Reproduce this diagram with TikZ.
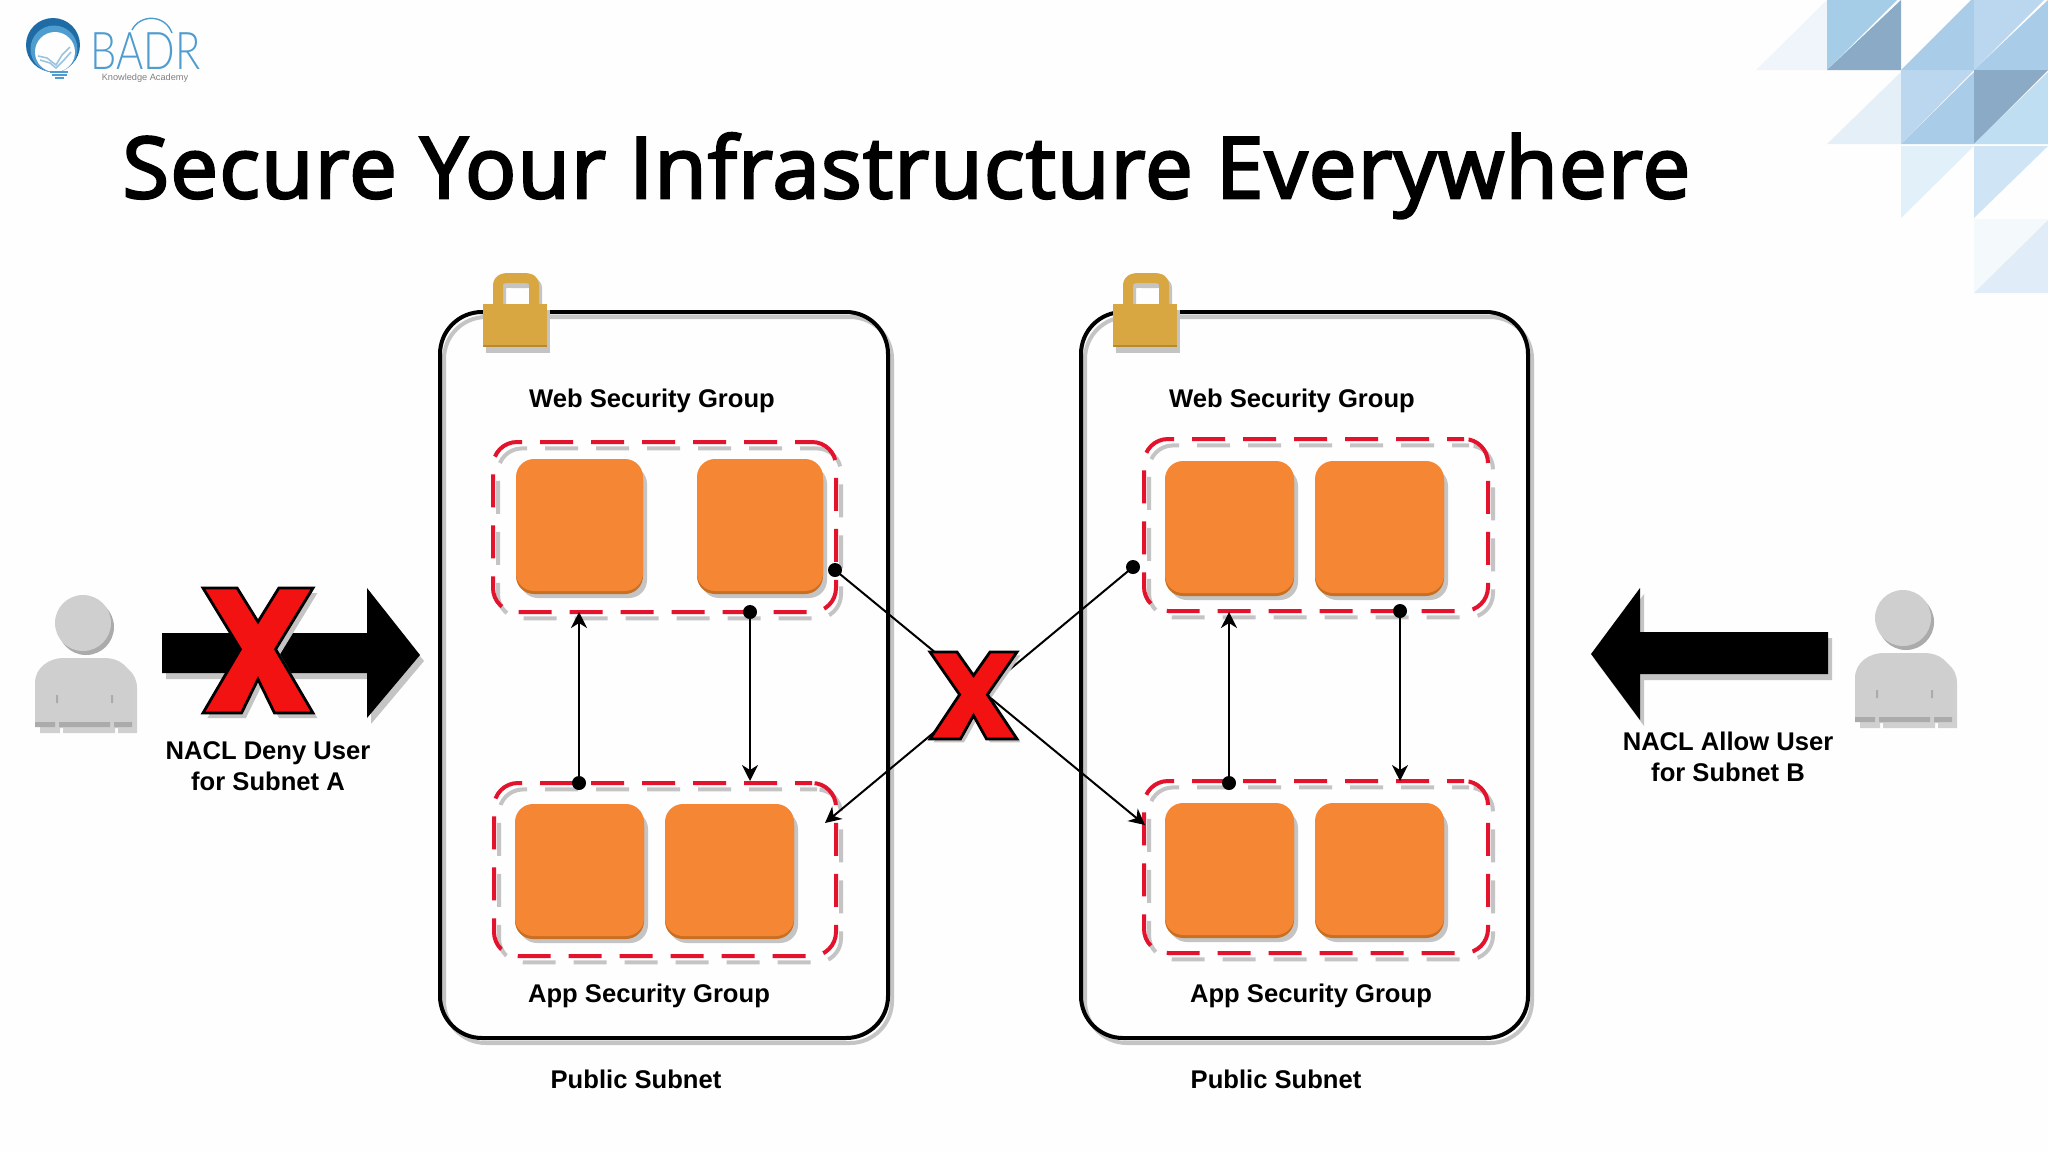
\documentclass[tikz,border=0pt]{standalone}
\usepackage{fontspec}
\setmainfont{Liberation Sans}
\newfontfamily\titlefont[FakeBold=3,LetterSpace=1.6]{Open Sans}
\newfontfamily\logofont{Lato Light}
\usetikzlibrary{arrows.meta}
\definecolor{bgc}{HTML}{FEFEFE}
\definecolor{shad}{HTML}{C4C4C4}
\definecolor{orangef}{HTML}{F58634}
\definecolor{oranged}{HTML}{C96F22}
\definecolor{redd}{HTML}{E3122D}
\definecolor{xred}{HTML}{F21212}
\definecolor{lockc}{HTML}{D9A741}
\definecolor{lockd}{HTML}{B88A2E}
\definecolor{persc}{HTML}{CFCFD0}
\definecolor{persd}{HTML}{ABABAB}
\definecolor{tA}{HTML}{F0F5FB}\definecolor{tB}{HTML}{A6CDE8}\definecolor{tC}{HTML}{8AAAC6}
\definecolor{tD}{HTML}{BAD7EF}\definecolor{tE}{HTML}{A9CDE9}\definecolor{tF}{HTML}{E4EFF8}
\definecolor{tG}{HTML}{C0DEF2}\definecolor{tH}{HTML}{E2F0FA}\definecolor{tI}{HTML}{CFE5F6}
\definecolor{tJ}{HTML}{F4F9FC}\definecolor{tK}{HTML}{E0EDF9}
\definecolor{logoa}{HTML}{1F6BA5}\definecolor{logob}{HTML}{4F9CCF}\definecolor{logoc}{HTML}{9CC4DE}
\tikzset{
  x=0.5pt,y=-0.5pt,
  sdw/.style={preaction={draw=shad,transform canvas={xshift=2pt,yshift=-2.5pt}}},
  sdwd/.style={preaction={draw=shad,transform canvas={xshift=2.5pt,yshift=-3.2pt}}},
  subnet/.style={draw=black,line width=2pt,rounded corners=21pt,anchor=north west,inner sep=0,outer sep=0,fill=none,sdw},
  secgroup/.style={draw=redd,line width=2pt,rounded corners=12pt,dash pattern=on 16.5pt off 9pt,dash phase=8pt,anchor=north west,inner sep=0,outer sep=0,sdwd},
  inst/.style={fill=orangef,rounded corners=9pt,anchor=north west,inner sep=0,outer sep=0,minimum width=64.5pt,minimum height=66pt,
    preaction={fill=shad,transform canvas={xshift=2pt,yshift=-3.5pt}},
    preaction={fill=oranged,transform canvas={yshift=-1.5pt}}},
  lbl/.style={font=\fontsize{12.8}{15.4}\selectfont\bfseries,text=black,inner sep=0,align=center},
  conn/.style={draw=black,line width=1pt},
  arrowed/.style={conn,-{Stealth[length=8pt,width=8pt,inset=2.5pt]}},
  dotn/.style={circle,fill=black,inner sep=0,minimum size=7pt,outer sep=0},
  bigarrow/.style={fill=black,preaction={fill=shad,transform canvas={xshift=2pt,yshift=-3pt}}},
  xmark/.pic={
    \fill[shad,shift={(4,4)}] (0,0)--(31,0)--(50,27)--(69,0)--(100,0)--(66,49)--(100,100)--(65,100)--(50,73)--(35,100)--(0,100)--(34,49)--cycle;
    \draw[draw=black,fill=xred,line width=1.4pt,miter limit=3] (0,0)--(31,0)--(50,27)--(69,0)--(100,0)--(66,49)--(100,100)--(65,100)--(50,73)--(35,100)--(0,100)--(34,49)--cycle;
  },
  person/.pic={
    \fill[shad!80!white,shift={(5,5)}] (-48,100)--(-48,60) .. controls (-48,44) and (-33,35) .. (-20,35)--(22,35) .. controls (36,35) and (49,44) .. (49,60)--(49,100)--cycle;
    \fill[shad!80!white] (-43,105) rectangle (-23,110) (-20,105) rectangle (32,110) (35,105) rectangle (54,110);
    \fill[persc] (-48,100)--(-48,60) .. controls (-48,44) and (-33,35) .. (-20,35)--(22,35) .. controls (36,35) and (49,44) .. (49,60)--(49,100)--cycle;
    \fill[persd] (-48,99) rectangle (-28,104) (-24,99) rectangle (27,104) (31,99) rectangle (49,104);
    \fill[persd] (-27,72) rectangle (-25,80) (28,72) rectangle (30,80);
    \fill[persd] (3,4) circle[radius=28];
    \fill[persc] (0,0) circle[radius=28];
  },
  padlock/.pic={
    \fill[shad] (3,40) rectangle (67,83);
    \draw[shad,line width=5pt,line join=round] (18,36)--(18,19) .. controls (18,12) and (23,13) .. (29,13)--(43,13) .. controls (50,13) and (54,12) .. (54,19)--(54,36);
    \draw[lockc,line width=5pt,line join=round] (15,36)--(15,16) .. controls (15,9) and (20,8) .. (26,8)--(40,8) .. controls (47,8) and (51,9) .. (51,16)--(51,36);
    \fill[lockd] (0,36) rectangle (64,77);
    \fill[lockc] (0,34) rectangle (64,75);
  }
}
\begin{document}
\begin{tikzpicture}
\useasboundingbox (0,0) rectangle (2048,1152);
\fill[bgc] (0,0) rectangle (2048,1152);
% decoration top right
\fill[tA] (1756,70)--(1827,70)--(1827,0)--cycle;
\fill[tB] (1827,70)--(1827,0)--(1897,0)--cycle;
\fill[tC] (1827,70)--(1901,0)--(1901,70)--cycle;
\fill[tE] (1901,70)--(1974,70)--(1974,0)--(1971,0)--cycle;
\fill[tD] (1974,70)--(1974,0)--(2044,0)--cycle;
\fill[tE] (1974,70)--(2048,0)--(2048,70)--cycle;
\fill[tF] (1827,144)--(1901,144)--(1901,72)--cycle;
\fill[tD] (1901,144)--(1901,70)--(1974,70)--cycle;
\fill[tE] (1901,144)--(1974,72)--(1974,144)--cycle;
\fill[tC] (1974,144)--(1974,70)--(2048,70)--cycle;
\fill[tG] (1974,144)--(2048,72)--(2048,144)--cycle;
\fill[tH] (1901,146)--(1974,146)--(1901,218)--cycle;
\fill[tI] (1974,146)--(2048,146)--(1974,218)--cycle;
\fill[tJ] (1974,219)--(2048,219)--(1974,293)--cycle;
\fill[tK] (1974,293)--(2048,293)--(2048,220)--cycle;
% logo
\fill[logoa] (53,45) circle[radius=27];
\fill[logob] (54,49) circle[radius=23.5];
\fill[bgc] (55,52) circle[radius=20];
\draw[logoc,line width=0.8pt] (38,56)--(47,58)--(56,65)--(62,55)--(70,47);
\draw[logoc,line width=0.8pt] (40,60)--(50,63)--(56,68)--(64,60)--(71,52);
\draw[logob,line width=1.1pt] (50,72)--(68,72) (52,75)--(67,75) (55,78)--(64,78);
\node[font=\fontsize{26}{26}\logofont,text=logob,inner sep=0,text depth=0pt,anchor=base west,xscale=0.8] (brand) at (90,69) {BADR};
\draw[logob,line width=0.7pt] (132,30) .. controls (140,14) and (165,14) .. (172,33);
\node[font=\fontsize{4.6}{5}\selectfont,text=gray,inner sep=0] (brandsub) at (145,78) {Knowledge Academy};
% title
\node[font=\fontsize{42.5}{48}\titlefont,text=black,inner sep=0,anchor=base west] (title) at (122,198) {Secure Your Infrastructure Everywhere};
% subnets
\node[subnet,minimum width=224pt,minimum height=363pt] (subA) at (440,312) {};
\node[subnet,minimum width=223.5pt,minimum height=363pt] (subB) at (1081,312) {};
% security groups
\node[secgroup,minimum width=171.5pt,minimum height=85pt] (webA) at (493,442) {};
\node[secgroup,minimum width=171pt,minimum height=86.5pt] (appA) at (494,783) {};
\node[secgroup,minimum width=172pt,minimum height=86pt] (webB) at (1144,439) {};
\node[secgroup,minimum width=172pt,minimum height=86pt] (appB) at (1144,781) {};
% instances
\node[inst,minimum width=63.5pt] (ia1) at (516,459) {};
\node[inst,minimum width=63pt] (ia2) at (697,459) {};
\node[inst] (ia3) at (515,804) {};
\node[inst] (ia4) at (665,804) {};
\node[inst] (ib1) at (1165,461) {};
\node[inst] (ib2) at (1315,461) {};
\node[inst] (ib3) at (1165,803) {};
\node[inst] (ib4) at (1315,803) {};
% locks
\pic at (483,270) {padlock};
\pic at (1113,270) {padlock};
% labels
\node[lbl] (l1) at (652,401) {Web Security Group};
\node[lbl] (l2) at (1292,401) {Web Security Group};
\node[lbl] (l3) at (649,996) {App Security Group};
\node[lbl] (l4) at (1311,996) {App Security Group};
\node[lbl] (l5) at (636,1079) {Public Subnet};
\node[lbl] (l6) at (1276,1079) {Public Subnet};
\node[lbl] (l7) at (268,766) {NACL Deny User\\for Subnet A};
\node[lbl] (l8) at (1728,757) {NACL Allow User\\for Subnet B};
% connectors
\node[dotn] (d1) at (579,783) {};
\coordinate (e1) at (579,612);
\node[dotn] (d2) at (750,612) {};
\coordinate (e2) at (750,781);
\node[dotn] (d3) at (1229,783) {};
\coordinate (e3) at (1229,612);
\node[dotn] (d4) at (1400,611) {};
\coordinate (e4) at (1400,781);
\node[dotn] (d5) at (835,570) {};
\coordinate (e5) at (1145,825);
\node[dotn] (d6) at (1133,567) {};
\coordinate (e6) at (825,823);
\draw[arrowed] (d1.center)--(e1);
\draw[arrowed] (d2.center)--(e2);
\draw[arrowed] (d3.center)--(e3);
\draw[arrowed] (d4.center)--(e4);
\draw[arrowed] (d5.center)--(e5);
\draw[arrowed] (d6.center)--(e6);
% big arrows
\path[bigarrow] (162,633)--(367,633)--(367,588)--(420,655)--(367,718)--(367,673)--(162,673)--cycle;
\path[bigarrow] (1828,632)--(1640,632)--(1640,588)--(1591,654)--(1640,720)--(1640,674)--(1828,674)--cycle;
% crosses
\pic[xscale=1.10,yscale=1.25] at (203,588) {xmark};
\pic[xscale=0.87,yscale=0.87] at (930,652) {xmark};
% users
\pic at (83,623) {person};
\pic at (1903,618) {person};
\end{tikzpicture}
\end{document}
